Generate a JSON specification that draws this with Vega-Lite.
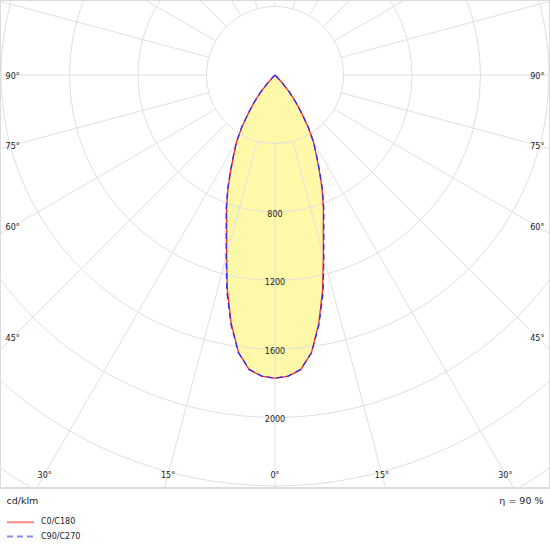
{
  "$schema": "https://vega.github.io/schema/vega-lite/v6.json",
  "width": 550,
  "height": 488,
  "autosize": "none",
  "padding": {"left": 0, "top": 0, "right": 0, "bottom": 62},
  "config": {
    "font": "DejaVu Sans",
    "view": {"stroke": "#dcdcdc", "strokeWidth": 2},
    "legend": {
      "orient": "none",
      "legendX": 15.5,
      "legendY": 517.2,
      "padding": 0,
      "symbolType": "M-3.375,0H3.375",
      "symbolSize": 64,
      "symbolStrokeWidth": 2,
      "symbolOpacity": 0.55,
      "labelFontSize": 8,
      "labelColor": "#222222",
      "labelOffset": 15.5,
      "rowPadding": 5.3
    }
  },
  "datasets": {
    "curve": [
      {"plane": "C0/C180", "a": -90, "I": 0}, {"plane": "C0/C180", "a": -70, "I": 0},
      {"plane": "C0/C180", "a": -50, "I": 0}, {"plane": "C0/C180", "a": -47.5, "I": 0},
      {"plane": "C0/C180", "a": -45, "I": 14}, {"plane": "C0/C180", "a": -42.5, "I": 62},
      {"plane": "C0/C180", "a": -40, "I": 131}, {"plane": "C0/C180", "a": -37.5, "I": 198},
      {"plane": "C0/C180", "a": -35, "I": 268}, {"plane": "C0/C180", "a": -32.5, "I": 360},
      {"plane": "C0/C180", "a": -30, "I": 448}, {"plane": "C0/C180", "a": -27.5, "I": 520},
      {"plane": "C0/C180", "a": -25, "I": 610}, {"plane": "C0/C180", "a": -22.5, "I": 718},
      {"plane": "C0/C180", "a": -20, "I": 826}, {"plane": "C0/C180", "a": -17.5, "I": 938},
      {"plane": "C0/C180", "a": -15, "I": 1091}, {"plane": "C0/C180", "a": -12.5, "I": 1285},
      {"plane": "C0/C180", "a": -10, "I": 1473}, {"plane": "C0/C180", "a": -7.5, "I": 1634},
      {"plane": "C0/C180", "a": -5, "I": 1728}, {"plane": "C0/C180", "a": -2.5, "I": 1761},
      {"plane": "C0/C180", "a": 0, "I": 1771},
      {"plane": "C0/C180", "a": 2.5, "I": 1761}, {"plane": "C0/C180", "a": 5, "I": 1728},
      {"plane": "C0/C180", "a": 7.5, "I": 1634}, {"plane": "C0/C180", "a": 10, "I": 1473},
      {"plane": "C0/C180", "a": 12.5, "I": 1285}, {"plane": "C0/C180", "a": 15, "I": 1091},
      {"plane": "C0/C180", "a": 17.5, "I": 938}, {"plane": "C0/C180", "a": 20, "I": 826},
      {"plane": "C0/C180", "a": 22.5, "I": 718}, {"plane": "C0/C180", "a": 25, "I": 610},
      {"plane": "C0/C180", "a": 27.5, "I": 520}, {"plane": "C0/C180", "a": 30, "I": 448},
      {"plane": "C0/C180", "a": 32.5, "I": 360}, {"plane": "C0/C180", "a": 35, "I": 268},
      {"plane": "C0/C180", "a": 37.5, "I": 198}, {"plane": "C0/C180", "a": 40, "I": 131},
      {"plane": "C0/C180", "a": 42.5, "I": 62}, {"plane": "C0/C180", "a": 45, "I": 14},
      {"plane": "C0/C180", "a": 47.5, "I": 0}, {"plane": "C0/C180", "a": 50, "I": 0},
      {"plane": "C0/C180", "a": 70, "I": 0}, {"plane": "C0/C180", "a": 90, "I": 0},

      {"plane": "C90/C270", "a": -90, "I": 0}, {"plane": "C90/C270", "a": -70, "I": 0},
      {"plane": "C90/C270", "a": -50, "I": 0}, {"plane": "C90/C270", "a": -47.5, "I": 0},
      {"plane": "C90/C270", "a": -45, "I": 14}, {"plane": "C90/C270", "a": -42.5, "I": 62},
      {"plane": "C90/C270", "a": -40, "I": 132}, {"plane": "C90/C270", "a": -37.5, "I": 199},
      {"plane": "C90/C270", "a": -35, "I": 270}, {"plane": "C90/C270", "a": -32.5, "I": 362},
      {"plane": "C90/C270", "a": -30, "I": 448}, {"plane": "C90/C270", "a": -27.5, "I": 522},
      {"plane": "C90/C270", "a": -25, "I": 614}, {"plane": "C90/C270", "a": -22.5, "I": 724},
      {"plane": "C90/C270", "a": -20, "I": 834}, {"plane": "C90/C270", "a": -17.5, "I": 948},
      {"plane": "C90/C270", "a": -15, "I": 1102}, {"plane": "C90/C270", "a": -12.5, "I": 1298},
      {"plane": "C90/C270", "a": -10, "I": 1480}, {"plane": "C90/C270", "a": -7.5, "I": 1636},
      {"plane": "C90/C270", "a": -5, "I": 1726}, {"plane": "C90/C270", "a": -2.5, "I": 1760},
      {"plane": "C90/C270", "a": 0, "I": 1771},
      {"plane": "C90/C270", "a": 2.5, "I": 1760}, {"plane": "C90/C270", "a": 5, "I": 1726},
      {"plane": "C90/C270", "a": 7.5, "I": 1636}, {"plane": "C90/C270", "a": 10, "I": 1480},
      {"plane": "C90/C270", "a": 12.5, "I": 1298}, {"plane": "C90/C270", "a": 15, "I": 1102},
      {"plane": "C90/C270", "a": 17.5, "I": 948}, {"plane": "C90/C270", "a": 20, "I": 834},
      {"plane": "C90/C270", "a": 22.5, "I": 724}, {"plane": "C90/C270", "a": 25, "I": 614},
      {"plane": "C90/C270", "a": 27.5, "I": 522}, {"plane": "C90/C270", "a": 30, "I": 448},
      {"plane": "C90/C270", "a": 32.5, "I": 362}, {"plane": "C90/C270", "a": 35, "I": 270},
      {"plane": "C90/C270", "a": 37.5, "I": 199}, {"plane": "C90/C270", "a": 40, "I": 132},
      {"plane": "C90/C270", "a": 42.5, "I": 62}, {"plane": "C90/C270", "a": 45, "I": 14},
      {"plane": "C90/C270", "a": 47.5, "I": 0}, {"plane": "C90/C270", "a": 50, "I": 0},
      {"plane": "C90/C270", "a": 70, "I": 0}, {"plane": "C90/C270", "a": 90, "I": 0}
    ],
    "rings": [
      {"r": 400}, {"r": 800}, {"r": 1200}, {"r": 1600},
      {"r": 2000}, {"r": 2400}, {"r": 2800}, {"r": 3200}
    ],
    "spokes": [
      {"angle": 0}, {"angle": 15}, {"angle": 30}, {"angle": 45}, {"angle": 60}, {"angle": 75},
      {"angle": 90}, {"angle": 105}, {"angle": 120}, {"angle": 135}, {"angle": 150}, {"angle": 165},
      {"angle": 180}, {"angle": 195}, {"angle": 210}, {"angle": 225}, {"angle": 240}, {"angle": 255},
      {"angle": 270}, {"angle": 285}, {"angle": 300}, {"angle": 315}, {"angle": 330}, {"angle": 345}
    ],
    "ringLabels": [{"v": 800}, {"v": 1200}, {"v": 1600}, {"v": 2000}],
    "angleLabels": [
      {"angle": 90, "side": -1}, {"angle": 75, "side": -1}, {"angle": 60, "side": -1},
      {"angle": 45, "side": -1}, {"angle": 30, "side": -1}, {"angle": 15, "side": -1},
      {"angle": 0, "side": 1},
      {"angle": 15, "side": 1}, {"angle": 30, "side": 1}, {"angle": 45, "side": 1},
      {"angle": 60, "side": 1}, {"angle": 75, "side": 1}, {"angle": 90, "side": 1}
    ]
  },
  "encoding": {
    "x": {
      "field": "px",
      "type": "quantitative",
      "scale": {"domain": [-1606, 1606], "nice": false, "zero": false},
      "axis": {
        "orient": "bottom",
        "domain": false, "ticks": false, "labels": false, "grid": false,
        "title": "cd/klm",
        "titleFont": "DejaVu Sans",
        "titleFontSize": 9.5,
        "titleFontWeight": "normal",
        "titleColor": "#222222",
        "titleAnchor": "start",
        "titleAlign": "left",
        "titleBaseline": "middle",
        "titleX": 6,
        "titleY": 12
      }
    },
    "y": {
      "field": "py",
      "type": "quantitative",
      "scale": {"domain": [-2412, 438], "nice": false, "zero": false},
      "axis": {
        "orient": "right",
        "domain": false, "ticks": false, "labels": false, "grid": false,
        "title": "η = 90 %",
        "titleFont": "DejaVu Sans",
        "titleFontSize": 9.5,
        "titleFontWeight": "normal",
        "titleColor": "#222222",
        "titleAngle": 0,
        "titleAlign": "right",
        "titleBaseline": "middle",
        "titleX": -7,
        "titleY": 500
      }
    }
  },
  "layer": [
    {
      "data": {"name": "curve"},
      "transform": [
        {"filter": "datum.plane == 'C0/C180'"},
        {"calculate": "datum.I * sin(datum.a * PI / 180)", "as": "px"},
        {"calculate": "-datum.I * cos(datum.a * PI / 180)", "as": "py"}
      ],
      "mark": {"type": "line", "fill": "#fdf9a8", "strokeWidth": 0},
      "encoding": {"order": {"field": "a", "type": "quantitative"}}
    },
    {
      "data": {"name": "rings"},
      "transform": [
        {"calculate": "0", "as": "px"},
        {"calculate": "0", "as": "py"}
      ],
      "mark": {"type": "point", "shape": "circle", "filled": false, "stroke": "#e0e0e0", "strokeWidth": 1, "opacity": 1, "clip": true},
      "encoding": {
        "size": {
          "field": "r",
          "type": "quantitative",
          "scale": {"type": "pow", "exponent": 2, "domain": [0, 3200], "range": [0, 1200975]},
          "legend": null
        }
      }
    },
    {
      "data": {"name": "spokes"},
      "transform": [
        {"calculate": "400 * sin(datum.angle * PI / 180)", "as": "px"},
        {"calculate": "-400 * cos(datum.angle * PI / 180)", "as": "py"},
        {"calculate": "4000 * sin(datum.angle * PI / 180)", "as": "px2"},
        {"calculate": "-4000 * cos(datum.angle * PI / 180)", "as": "py2"}
      ],
      "mark": {"type": "rule", "stroke": "#e0e0e0", "strokeWidth": 1, "clip": true},
      "encoding": {
        "x2": {"field": "px2"},
        "y2": {"field": "py2"}
      }
    },
    {
      "data": {"name": "curve"},
      "transform": [
        {"calculate": "datum.I * sin(datum.a * PI / 180)", "as": "px"},
        {"calculate": "-datum.I * cos(datum.a * PI / 180)", "as": "py"}
      ],
      "mark": {"type": "line", "strokeWidth": 1.3},
      "encoding": {
        "order": {"field": "a", "type": "quantitative"},
        "color": {
          "field": "plane",
          "type": "nominal",
          "scale": {"domain": ["C0/C180", "C90/C270"], "range": ["#ff2a2a", "#2a2aff"]},
          "legend": {"title": null}
        },
        "strokeDash": {
          "field": "plane",
          "type": "nominal",
          "scale": {"domain": ["C0/C180", "C90/C270"], "range": [[1, 0], [6, 4]]},
          "legend": {"title": null}
        }
      }
    },
    {
      "data": {"name": "ringLabels"},
      "transform": [
        {"calculate": "0", "as": "px"},
        {"calculate": "-datum.v", "as": "py"}
      ],
      "mark": {"type": "text", "fontSize": 8, "color": "#1a1a1a", "baseline": "middle", "dy": 3},
      "encoding": {"text": {"field": "v", "type": "quantitative", "format": "d"}}
    },
    {
      "data": {"name": "angleLabels"},
      "transform": [
        {"calculate": "datum.angle >= 45 ? datum.side * 1532 : datum.side * 2330 * tan(datum.angle * PI / 180)", "as": "px"},
        {"calculate": "datum.angle >= 45 ? -1532 / tan(datum.angle * PI / 180) : -2330", "as": "py"},
        {"calculate": "datum.angle + '°'", "as": "label"}
      ],
      "mark": {"type": "text", "fontSize": 8, "color": "#1a1a1a", "baseline": "middle", "dy": 2},
      "encoding": {"text": {"field": "label", "type": "nominal"}}
    }
  ]
}
